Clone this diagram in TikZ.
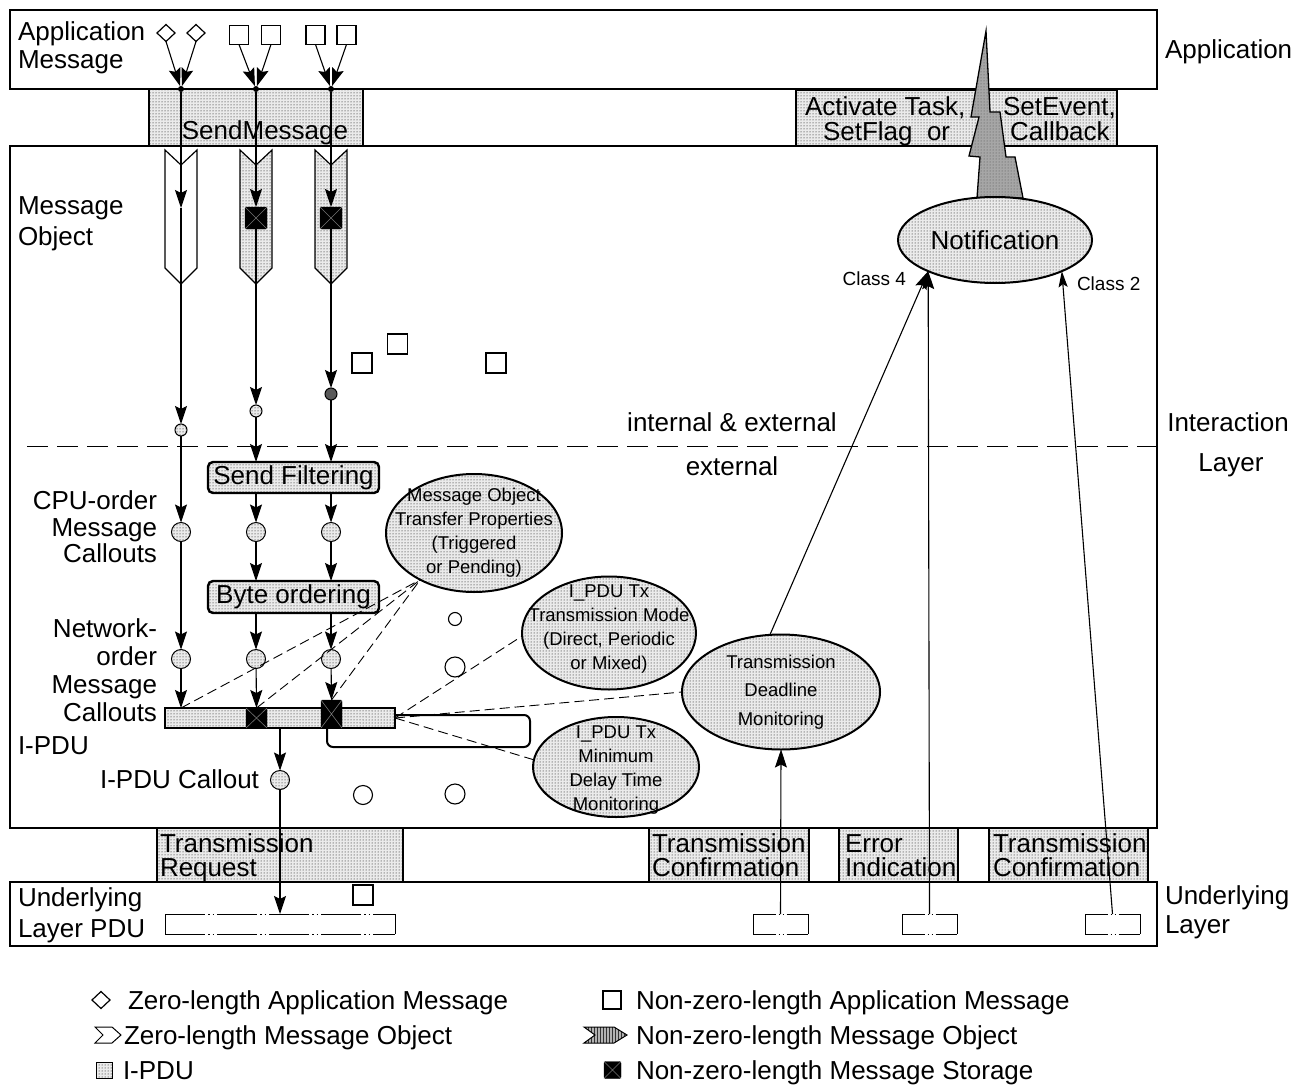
\documentclass[tikz,border=0pt]{standalone}
\usepackage{fontspec}
\setmainfont{Liberation Sans}
\usetikzlibrary{arrows.meta,patterns,shapes.geometric}
\begin{document}
\begin{tikzpicture}[x=1pt,y=-1pt,font=\fontsize{26}{28}\selectfont]
\tikzset{
  every node/.style={inner sep=0pt, outer sep=0pt},
  dotted fill/.style={preaction={fill=black!8}, pattern=dots, pattern color=black},
  frame/.style={draw, line width=2.4pt, anchor=north west},
  gbox/.style={draw, line width=1.6pt, dotted fill, anchor=north west},
  proc/.style={draw, line width=2.4pt, rounded corners=5pt, dotted fill},
  ln/.style={line width=1.1pt},
  arr/.style={ln, -{Stealth[length=18pt,width=12pt,inset=3pt]}},
  dsh/.style={line width=0.9pt, dash pattern=on 10pt off 5pt},
  ell/.style={ellipse, draw, line width=2pt, dotted fill},
  etext/.style={align=center, font=\fontsize{18.5}{24}\selectfont},
  lbl/.style={anchor=base west},
  rlbl/.style={anchor=base east},
  clbl/.style={anchor=base},
  cdot/.style={circle, draw, line width=1pt, dotted fill},
  cdark/.style={circle, draw, line width=1pt, fill=black!65},
  hollow/.style={circle, draw, line width=1.1pt, fill=white},
  msq/.style={rectangle, draw, line width=1.3pt, fill=white, minimum size=19pt},
  dmd/.style={diamond, draw, line width=1.2pt, fill=white, minimum width=18pt, minimum height=17pt},
  store/.style={rectangle, fill=black, draw=black, rounded corners=1.5pt},
  topdot/.style={circle, fill=black, minimum size=6pt},
  chev/.style={draw, line width=1.2pt},
  thinln/.style={line width=0.9pt},
  dddlong/.style={dash pattern=on 40pt off 3pt on 1.5pt off 3pt on 1.5pt off 3pt},
  dddshort/.style={dash pattern=on 23pt off 2.5pt on 1.5pt off 2.5pt on 1.5pt off 2.5pt on 40pt off 1pt},
  pdu/.style={minimum height=20pt, fill=white},
}
\useasboundingbox (0,0) rectangle (1308,1086);
\fill[white] (0,0) rectangle (1308,1086);

% ---- service boxes between the layers ----
\node[gbox, minimum width=214pt, minimum height=57pt] (sendmsg) at (149,89) {};
\node[gbox, minimum width=321pt, minimum height=56pt] (notifybox) at (796,90) {};
\node[gbox, minimum width=246pt, minimum height=54pt] (txreq) at (157,828) {};
\node[gbox, minimum width=160pt, minimum height=54pt] (txconfA) at (649,828) {};
\node[gbox, minimum width=119pt, minimum height=54pt] (errind) at (839,828) {};
\node[gbox, minimum width=159pt, minimum height=54pt] (txconfB) at (989,828) {};

% ---- layer frames ----
\node[frame, minimum width=1147pt, minimum height=79pt] (appbox) at (10,10) {};
\node[frame, minimum width=1147pt, minimum height=682pt] (interbox) at (10,146) {};
\node[frame, minimum width=1147pt, minimum height=64pt] (underbox) at (10,882) {};

% ---- box texts ----
\node[clbl] (sendtxt) at (265,140) {SendMessage};
\node[lbl] (nt1) at (805,116) {Activate Task,};
\node[lbl] (nt2) at (1003,116) {SetEvent,};
\node[lbl] (nt3) at (823,141) {SetFlag\ \ or};
\node[lbl] (nt4) at (1010,141) {Callback};
\node[lbl] (tr1) at (160,852) {Transmission};
\node[lbl] (tr2) at (160,876) {Request};
\node[lbl] (tc1) at (652,852) {Transmission};
\node[lbl] (tc2) at (652,876) {Confirmation};
\node[lbl] (ei1) at (845,852) {Error};
\node[lbl] (ei2) at (845,876) {Indication};
\node[lbl] (td1) at (993,852) {Transmission};
\node[lbl] (td2) at (993,876) {Confirmation};

% ---- notification bolt ----
\draw[line width=1.3pt, preaction={fill=black!35}, pattern=dots, pattern color=black!70]
  (986,31) -- (990,112) -- (1000,112) -- (1006,157)
  -- (1015,157) -- (1023,198) -- (977,198) -- (980,157) -- (969,156) -- (979,117)
  -- (971,117) -- cycle;

% ---- side and layer labels ----
\node[lbl] (la1) at (18,41) {Application};
\node[lbl] (la2) at (18,69) {Message};
\node[lbl] (ra1) at (1165,59) {Application};
\node[lbl] (mo1) at (18,214) {Message};
\node[lbl] (mo2) at (18,245) {Object};
\node[rlbl] (cp1) at (157,509) {CPU-order};
\node[rlbl] (cp2) at (157,536) {Message};
\node[rlbl] (cp3) at (157,562) {Callouts};
\node[rlbl] (nw1) at (157,637) {Network-};
\node[rlbl] (nw2) at (157,665) {order};
\node[rlbl] (nw3) at (157,693) {Message};
\node[rlbl] (nw4) at (157,721) {Callouts};
\node[lbl] (ipl) at (18,754) {I-PDU};
\node[rlbl] (icl) at (259,788) {I-PDU Callout};
\node[clbl] (ie1) at (732,431) {internal \& external};
\node[clbl] (ie2) at (732,475) {external};
\node[clbl] (il1) at (1228,431) {Interaction};
\node[clbl] (il2) at (1231,471) {Layer};
\node[lbl] (ul1) at (18,906) {Underlying};
\node[lbl] (ul2) at (18,937) {Layer PDU};
\node[lbl] (ur1) at (1165,904) {Underlying};
\node[lbl] (ur2) at (1165,933) {Layer};

% ---- application messages ----
\node[dmd] (dA) at (166,33) {};
\node[dmd] (dB) at (196,33) {};
\node[msq] (mA) at (239,35) {};
\node[msq] (mB) at (271,35) {};
\node[msq] (mC) at (315.5,35) {};
\node[msq] (mD) at (346.5,35) {};
\node[topdot] (t1) at (181,89) {};
\node[topdot] (t2) at (256,89) {};
\node[topdot] (t3) at (331,89) {};
\draw[arr] (dA.south) -- (t1);
\draw[arr] (dB.south) -- (t1);
\draw[arr] (mA.south) -- (t2);
\draw[arr] (mB.south) -- (t2);
\draw[arr] (mC.south) -- (t3);
\draw[arr] (mD.south) -- (t3);

% ---- message objects ----
\draw[chev, fill=white] (165,150) -- (181,165) -- (197,150) -- (197,268) -- (181,284) -- (165,268) -- cycle;
\draw[chev, dotted fill] (240,150) -- (256,165) -- (272,150) -- (272,268) -- (256,284) -- (240,268) -- cycle;
\draw[chev, dotted fill] (315,150) -- (331,165) -- (347,150) -- (347,268) -- (331,284) -- (315,268) -- cycle;

\coordinate (h1) at (181,208);
\node[store, minimum size=22pt] (k2) at (256,218) {};
\node[store, minimum size=22pt] (k3) at (331,218) {};
\node[cdot, minimum size=12pt] (c1) at (181,430) {};
\node[cdot, minimum size=12pt] (c2) at (256,411) {};
\node[cdark, minimum size=12pt] (c3) at (331,394) {};

% ---- interaction layer processing ----
\coordinate (dl) at (27,446);
\draw[line width=1pt, dash pattern=on 21pt off 9pt] (dl) -- (dl -| interbox.east);

\node[proc, minimum width=171pt, minimum height=31pt] (sf) at (293.5,477.5) {Send Filtering};
\node[proc, minimum width=171pt, minimum height=32pt] (bo) at (293.5,597) {Byte ordering};
\foreach \i/\x in {1/181, 2/256, 3/331} {
  \node[cdot, minimum size=19pt] (u\i) at (\x,532) {};
  \node[cdot, minimum size=19pt] (n\i) at (\x,659) {};
}

\node[draw, line width=2pt, rounded corners=6pt, minimum width=203pt, minimum height=32pt, anchor=north west] (loop) at (327,715) {};
\node[draw, line width=2pt, dotted fill, minimum width=230pt, minimum height=20pt] (ipdu) at (280,718) {};
\node[store, minimum width=21pt, minimum height=20pt] (s2) at (256.5,718) {};
\node[store, minimum width=21pt, minimum height=28pt] (s3) at (331.5,714) {};
\coordinate (p1) at (181,708);
\node[cdot, minimum size=19pt] (ic) at (280,780) {};

% storage crosses
\foreach \s in {k2, k3, s2, s3} {
  \draw[black!55, line width=0.6pt] (\s.north west) -- (\s.south east) (\s.north east) -- (\s.south west);
}

% ---- message flow ----
\draw[arr] (t1) -- (h1);
\draw[arr] (h1) -- (c1);
\draw[arr] (t2) -- (k2);
\draw[arr] (k2) -- (c2);
\draw[arr] (t3) -- (k3);
\draw[arr] (k3) -- (c3);
\draw[arr] (c1) -- (u1);
\draw[arr] (c2) -- (c2 |- sf.north);
\draw[arr] (c3) -- (c3 |- sf.north);
\draw[arr] (u2 |- sf.south) -- (u2);
\draw[arr] (u3 |- sf.south) -- (u3);
\draw[arr] (u1) -- (n1);
\draw[arr] (u2) -- (u2 |- bo.north);
\draw[arr] (u3) -- (u3 |- bo.north);
\draw[arr] (n2 |- bo.south) -- (n2);
\draw[arr] (n3 |- bo.south) -- (n3);
\draw[arr] (n1) -- (p1);
\draw[arr] (n2) -- (s2.north);
\draw[arr] (n3) -- (s3.north);
\draw[arr] (ipdu.south) -- (ic);

% ---- property ellipses ----
\node[ell, minimum width=176pt, minimum height=118pt] (mop) at (474,533) {};
\node[etext] at (mop) {Message Object\\Transfer Properties\\(Triggered\\or Pending)};
\node[ell, minimum width=174pt, minimum height=113pt] (mode) at (609,633) {};
\node[etext, yshift=4pt] at (mode) {I\_PDU Tx\\Transmission Mode\\(Direct, Periodic\\or Mixed)};
\node[ell, minimum width=198pt, minimum height=115pt] (deadline) at (781,692) {};
\node[etext, font=\fontsize{18.5}{28.5}\selectfont] at (deadline) {Transmission\\Deadline\\Monitoring};
\node[ell, minimum width=166pt, minimum height=100pt] (mindel) at (616,767) {};
\node[etext, yshift=-3pt] at (mindel) {I\_PDU Tx\\Minimum\\Delay Time\\Monitoring};
\node[ell, minimum width=194pt, minimum height=86pt] (notif) at (995,240) {};
\node at (notif) {Notification};

\draw[dsh] (p1) -- (mop.221);
\draw[dsh] (s2.north) -- (mop.221);
\draw[dsh] (s3.north) -- (mop.221);
\draw[dsh] (ipdu.east) -- (mode.182);
\draw[dsh] (ipdu.east) -- (deadline.west);
\draw[dsh] (ipdu.east) -- (mindel.175);

% ---- loose messages ----
\node[msq, minimum size=20pt] (q1) at (362,363) {};
\node[msq, minimum size=20pt] (q2) at (397.5,344) {};
\node[msq, minimum size=20pt] (q3) at (496,363) {};
\node[hollow, minimum size=13pt] (o1) at (455,619) {};
\node[hollow, minimum size=20pt] (o2) at (455,667) {};
\node[hollow, minimum size=19pt] (o3) at (363,795) {};
\node[hollow, minimum size=20pt] (o4) at (455,794) {};

% ---- underlying layer PDUs ----
\node[msq, minimum size=20pt] (q4) at (363,895) {};
\node[pdu, minimum width=230pt] (upb) at (280,924) {};
\node[pdu, minimum width=55pt] (b1) at (780.5,924) {};
\node[pdu, minimum width=55pt] (b2) at (929.5,924) {};
\node[pdu, minimum width=55pt] (b3) at (1112.5,924) {};
\foreach \b/\w in {upb/long, b1/short, b2/short, b3/short} {
  \draw[thinln] (\b.north west) -- (\b.south west) (\b.north east) -- (\b.south east);
  \draw[thinln, ddd\w] (\b.north west) -- (\b.north east) (\b.south west) -- (\b.south east);
}

\draw[arr] (ic) -- (upb.north);
\draw[arr] (b1.north) -- (deadline.south);
\draw[arr] (deadline.101) -- (notif.205);
\draw[arr] (b2.north) -- (notif.205);
\draw[ln, -{Stealth[length=16pt,width=9pt,inset=3pt]}] (b3.north) -- (notif.335);
\node[anchor=base east, font=\fontsize{19}{22}\selectfont] (cl4) at (906,285) {Class 4};
\node[anchor=base west, font=\fontsize{19}{22}\selectfont] (cl2) at (1077,290) {Class 2};

% ---- legend ----
\node[dmd] (lg1) at (101,1000) {};
\node[lbl] at (128,1009) {Zero-length Application Message};
\node[msq, minimum size=18pt] (lg2) at (612,1000) {};
\node[lbl] at (636,1009) {Non-zero-length Application Message};
\draw[line width=1pt, fill=white] (95,1027) -- (112,1027) -- (121,1035) -- (112,1043) -- (95,1043) -- (103,1035) -- cycle;
\node[lbl] at (124,1044) {Zero-length Message Object};
\draw[line width=1pt, preaction={fill=black!30}, pattern=vertical lines, pattern color=black!80] (584,1027) -- (614,1027) -- (627,1035) -- (614,1043) -- (584,1043) -- (595,1035) -- cycle;
\node[lbl] at (636,1044) {Non-zero-length Message Object};
\node[draw, line width=1pt, dotted fill, minimum size=16pt] (lg3) at (104.5,1070) {};
\node[lbl] at (123,1079) {I-PDU};
\node[store, minimum size=17pt] (lg4) at (612.5,1070) {};
\draw[black!55, line width=0.6pt] (lg4.north west) -- (lg4.south east) (lg4.north east) -- (lg4.south west);
\node[lbl] at (636,1079) {Non-zero-length Message Storage};
\end{tikzpicture}
\end{document}
